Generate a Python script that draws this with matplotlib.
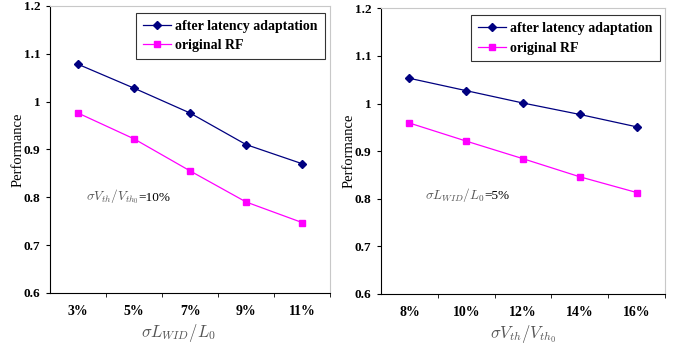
import matplotlib
matplotlib.use("Agg")
import matplotlib.pyplot as plt
from matplotlib.offsetbox import TextArea, HPacker, AnnotationBbox

plt.rcParams['font.family'] = ['Liberation Serif', 'DejaVu Serif']
plt.rcParams['mathtext.fontset'] = 'cm'

# Left panel data
left_cats = ['3%', '5%', '7%', '9%', '11%']
left_after = [1.078, 1.028, 0.976, 0.910, 0.870]
left_orig = [0.976, 0.922, 0.855, 0.790, 0.747]

# Right panel data
right_cats = ['8%', '10%', '12%', '14%', '16%']
right_after = [1.053, 1.027, 1.001, 0.977, 0.951]
right_orig = [0.959, 0.921, 0.884, 0.846, 0.813]

y_ticks = [0.6, 0.7, 0.8, 0.9, 1.0, 1.1, 1.2]
y_tick_labels = ['0.6', '0.7', '0.8', '0.9', '1', '1.1', '1.2']

fig = plt.figure(figsize=(6.78, 3.47), dpi=100)
ax1 = fig.add_axes([0.0737, 0.156, 0.4133, 0.827])
ax2 = fig.add_axes([0.562, 0.153, 0.419, 0.823])

NAVY = '#000080'
PINK = '#FF00FF'

def setup(ax, cats, after, orig, xlabel, xlabel_x, ylabel_x, ann_math, ann_rest, ann_xy):
    x = list(range(1, len(cats) + 1))
    ax.plot(x, after, color=NAVY, lw=0.9, marker='D', ms=3.8, mfc=NAVY, mec=NAVY,
            label='after latency adaptation')
    ax.plot(x, orig, color=PINK, lw=0.9, marker='s', ms=4.8, mfc=PINK, mec=PINK,
            label='original RF')
    ax.set_xlim(0.5, len(cats) + 0.5)
    ax.set_ylim(0.6, 1.2)
    ax.set_yticks(y_ticks)
    ax.set_yticklabels(y_tick_labels, fontweight='bold', fontsize=9.5)
    ax.set_xticks(x)
    ax.set_xticklabels(cats, fontweight='bold', fontsize=10)
    ax.tick_params(axis='x', which='major', length=0, pad=9)
    ax.set_xticks([i + 0.5 for i in x], minor=True)
    ax.tick_params(axis='x', which='minor', length=3, direction='out')
    ax.tick_params(axis='y', length=3, direction='out', pad=4)
    ax.set_ylabel('Performance', fontsize=10.5)
    ax.yaxis.set_label_coords(ylabel_x, 0.5)
    ax.yaxis.label.set_va('center')
    ax.set_xlabel(xlabel, fontsize=12, color='#555555')
    ax.xaxis.set_label_coords(xlabel_x, -0.139)
    ax.xaxis.label.set_va('center')
    for s in ['top', 'right']:
        ax.spines[s].set_color('#c8c8c8')
        ax.spines[s].set_linewidth(0.8)
    for s in ['left', 'bottom']:
        ax.spines[s].set_color('black')
        ax.spines[s].set_linewidth(0.8)
    leg = ax.legend(loc='upper right', bbox_to_anchor=(0.995, 0.99), frameon=True,
                    fancybox=False, edgecolor='black', handlelength=2.0,
                    prop={'weight': 'bold', 'size': 10}, borderpad=0.5,
                    labelspacing=0.45, handletextpad=0.3, borderaxespad=0.3)
    leg.get_frame().set_linewidth(0.8)
    ta1 = TextArea(ann_math, textprops=dict(color='#555555', fontsize=9.5))
    ta2 = TextArea(ann_rest, textprops=dict(color='black', fontsize=9.5))
    box = HPacker(children=[ta1, ta2], align='baseline', pad=0, sep=0)
    ab = AnnotationBbox(box, ann_xy, xycoords='figure pixels', frameon=False,
                        box_alignment=(0, 0.5))
    ax.add_artist(ab)

setup(ax1, left_cats, left_after, left_orig, r'$\sigma L_{WID}/L_0$', 0.46, -0.114,
      r'$\sigma V_{th}/V_{th_0}$', '=10%', (86, 347 - 197))
setup(ax2, right_cats, right_after, right_orig, r'$\sigma V_{th}/V_{th_0}$', 0.5, -0.112,
      r'$\sigma L_{WID}/L_0$', '=5%', (425, 347 - 195))

fig.savefig('out.png', dpi=100)
